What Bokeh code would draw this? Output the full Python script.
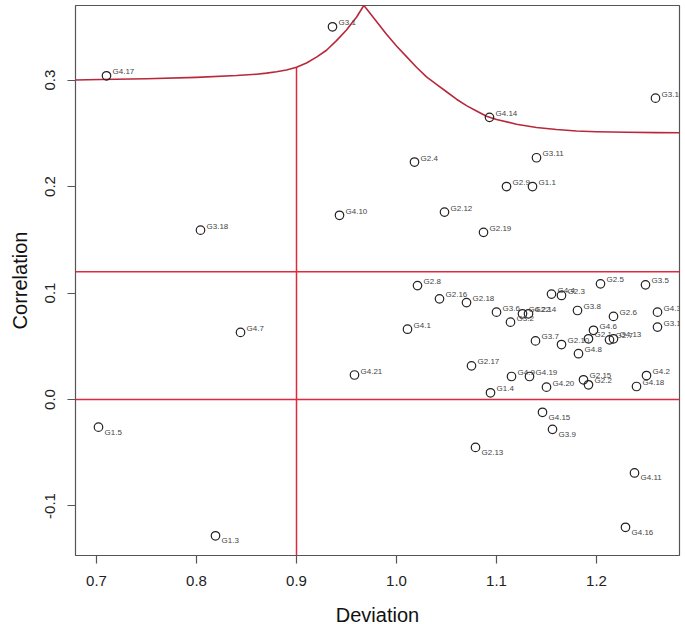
from bokeh.plotting import figure
from bokeh.models import ColumnDataSource, Span, FixedTicker, Range1d
from bokeh.embed import file_html
from bokeh.resources import INLINE
from bokeh.core.properties import value

# ---- data ----
labels = ["G4.17", "G3.1", "G3.10", "G4.14", "G2.4", "G3.11", "G2.9", "G1.1",
          "G4.10", "G2.12", "G2.19", "G3.18", "G4.7", "G4.21", "G1.5", "G1.3",
          "G2.8", "G2.16", "G2.18", "G3.6", "G4.22", "G2.14", "G3.2", "G4.1",
          "G3.7", "G2.10", "G2.1", "G4.6", "G2.7", "G4.13", "G4.8", "G3.8",
          "G2.6", "G2.5", "G3.5", "G4.3", "G3.13", "G4.4", "G2.3", "G2.17",
          "G4.9", "G4.19", "G1.4", "G4.20", "G2.15", "G2.2", "G4.2", "G4.18",
          "G4.15", "G3.9", "G2.13", "G4.11", "G4.16"]
deviation = [0.710, 0.936, 1.259, 1.093, 1.018, 1.140, 1.110, 1.136,
             0.943, 1.048, 1.087, 0.804, 0.844, 0.958, 0.702, 0.819,
             1.021, 1.043, 1.070, 1.100, 1.126, 1.132, 1.114, 1.011,
             1.139, 1.165, 1.192, 1.197, 1.213, 1.217, 1.182, 1.181,
             1.217, 1.204, 1.249, 1.261, 1.261, 1.155, 1.165, 1.075,
             1.115, 1.133, 1.094, 1.150, 1.187, 1.192, 1.250, 1.240,
             1.146, 1.156, 1.079, 1.238, 1.229]
correlation = [0.304, 0.350, 0.283, 0.265, 0.223, 0.227, 0.200, 0.200,
               0.173, 0.176, 0.157, 0.159, 0.063, 0.023, -0.026, -0.128,
               0.107, 0.0945, 0.091, 0.082, 0.0805, 0.0805, 0.0726, 0.066,
               0.055, 0.0516, 0.057, 0.065, 0.056, 0.057, 0.043, 0.0836,
               0.078, 0.1086, 0.1077, 0.082, 0.068, 0.099, 0.0977, 0.0316,
               0.0216, 0.0216, 0.0063, 0.0116, 0.0185, 0.0138, 0.0225, 0.0122,
               -0.012, -0.028, -0.045, -0.069, -0.120]

# boundary curve
curve_x = [0.679, 0.704, 0.75, 0.80, 0.84, 0.86, 0.87, 0.88, 0.89, 0.90,
           0.91, 0.92, 0.93, 0.94, 0.95, 0.955, 0.96, 0.9673,
           0.97, 0.98, 0.99, 1.00, 1.01, 1.02, 1.03, 1.04, 1.05, 1.06,
           1.07, 1.08, 1.09, 1.10, 1.12, 1.14, 1.16, 1.18, 1.20, 1.23,
           1.26, 1.283]
curve_y = [0.300, 0.3005, 0.3012, 0.3025, 0.3042, 0.3055, 0.3065, 0.3078, 0.3095, 0.312,
           0.316, 0.3215, 0.328, 0.337, 0.347, 0.353, 0.359, 0.370,
           0.367, 0.355, 0.343, 0.332, 0.322, 0.312, 0.303, 0.296, 0.289, 0.282,
           0.276, 0.271, 0.266, 0.263, 0.2585, 0.2555, 0.2535, 0.2522, 0.2515, 0.251,
           0.2506, 0.2505]

h_lines = [0.0, 0.12]
v_line_x = [0.9]
v_line_bottom = [-0.2]
v_line_top = [0.312]

x_ticks = [0.7, 0.8, 0.9, 1.0, 1.1, 1.2]
x_tick_labels = ["0.7", "0.8", "0.9", "1.0", "1.1", "1.2"]
y_ticks = [-0.1, 0.0, 0.1, 0.2, 0.3]
y_tick_labels = ["-0.1", "0.0", "0.1", "0.2", "0.3"]

FONT = "Liberation Sans"
RED = "#e0283f"
CURVE = "#b8283a"

p = figure(frame_width=604, frame_height=550,
           min_border_left=75, min_border_right=6, min_border_top=5, min_border_bottom=69,
           x_range=Range1d(0.679, 1.283), y_range=Range1d(-0.1465, 0.370),
           output_backend="svg", toolbar_location=None, tools="")

p.background_fill_color = "white"
p.border_fill_color = "white"
p.outline_line_color = "#555555"
p.outline_line_width = 1.2
p.xgrid.visible = False
p.ygrid.visible = False

# red reference lines
for hv in h_lines:
    p.add_layout(Span(location=hv, dimension="width", line_color=RED, line_width=1.5))
p.segment(x0=v_line_x, y0=v_line_bottom, x1=v_line_x, y1=v_line_top,
          line_color=RED, line_width=1.5)
p.line(curve_x, curve_y, line_color=CURVE, line_width=1.6, line_join="round")

src = ColumnDataSource(dict(
    x=deviation, y=correlation, label=labels,
    yoff=[-4 if v >= 0 else 5 for v in correlation],
))
p.scatter("x", "y", source=src, marker="circle", size=8.5,
          fill_color=None, line_color="#222222", line_width=1.2)
p.text("x", "y", text="label", source=src, x_offset=6, y_offset="yoff",
       text_font=value(FONT), text_font_size="8px", text_color="#444444",
       text_baseline="middle", text_align="left")

for ax, ticks, tl in ((p.xaxis[0], x_ticks, x_tick_labels), (p.yaxis[0], y_ticks, y_tick_labels)):
    ax.ticker = FixedTicker(ticks=ticks)
    ax.major_label_overrides = {t: s for t, s in zip(ticks, tl)}
    ax.axis_line_color = None
    ax.major_tick_line_color = "#555555"
    ax.major_tick_line_width = 1.2
    ax.major_tick_in = 0
    ax.major_tick_out = 8
    ax.minor_tick_line_color = None
    ax.major_label_text_font = FONT
    ax.major_label_text_font_size = "15px"
    ax.major_label_text_color = "#222222"
    ax.axis_label_text_font = FONT
    ax.axis_label_text_font_size = "20px"
    ax.axis_label_text_font_style = "normal"
    ax.axis_label_text_color = "#111111"

p.xaxis.axis_label = "Deviation"
p.yaxis.axis_label = "Correlation"
p.xaxis.major_label_standoff = 12
p.xaxis.axis_label_standoff = 15
p.yaxis.major_label_orientation = "vertical"
p.yaxis.major_label_standoff = 12
p.yaxis.axis_label_standoff = 12

open("out.html", "w").write(file_html(p, INLINE))
